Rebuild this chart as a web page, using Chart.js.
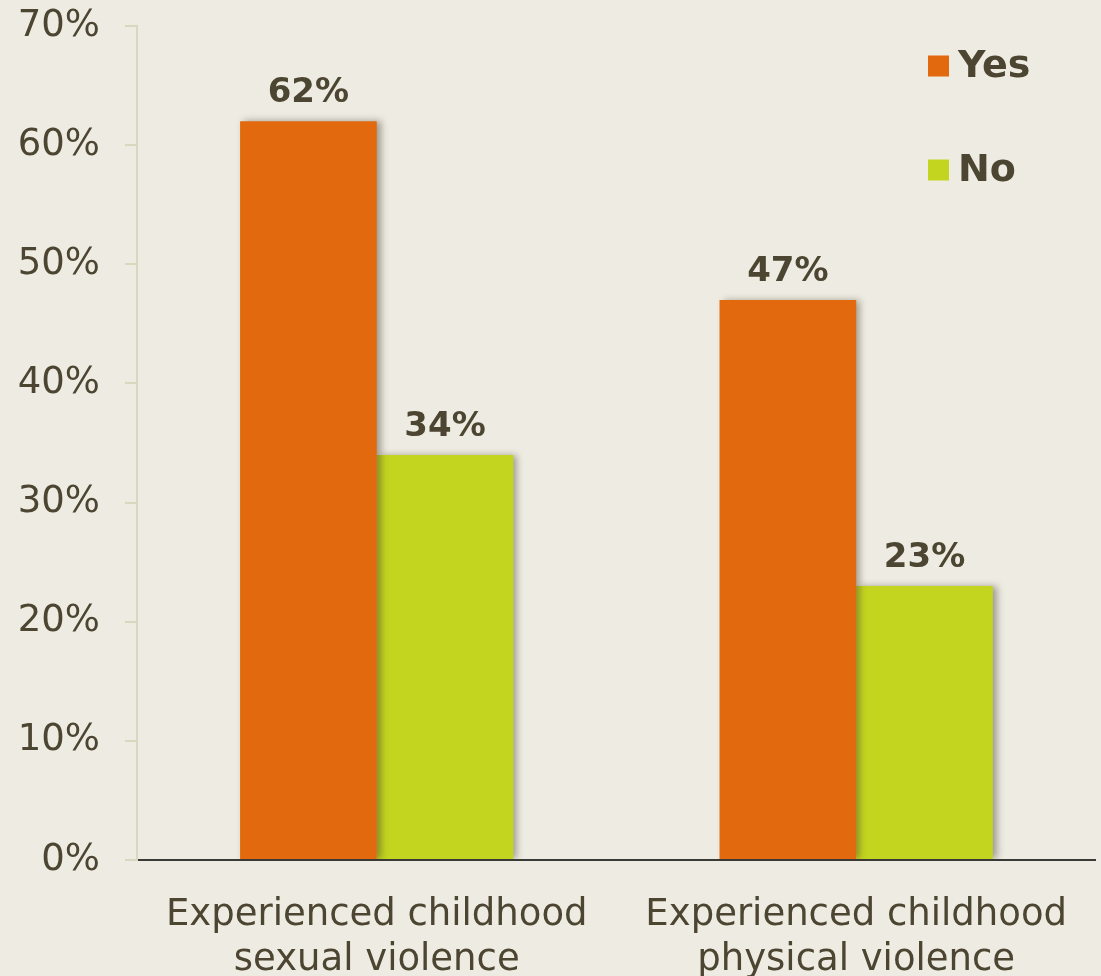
<!DOCTYPE html>
<html>
<head>
<meta charset="utf-8">
<script src="https://cdn.jsdelivr.net/npm/chart.js@4"></script>
<style>
  html, body { margin: 0; padding: 0; background: #eeebe2; }
  #wrap { width: 1101px; height: 976px; position: relative; }
</style>
</head>
<body>
<div id="wrap"><canvas id="c" width="1101" height="976"></canvas></div>
<script>
const categories = [["Experienced childhood", "sexual violence"], ["Experienced childhood", "physical violence"]];
const seriesNames = ["Yes", "No"];
const yesValues = [62, 47];
const noValues = [34, 23];
const yTicks = [0, 10, 20, 30, 40, 50, 60, 70];

const TEXT = '#4b4531';
const FONT = "'DejaVu Sans', Verdana, sans-serif";

const bgPlugin = {
  id: 'bg',
  beforeDraw(chart) {
    const ctx = chart.ctx;
    ctx.save();
    ctx.fillStyle = '#eeebe2';
    ctx.fillRect(0, 0, chart.width, chart.height);
    ctx.restore();
  }
};

const shadowPlugin = {
  id: 'shadow',
  beforeDatasetsDraw(chart) {
    const ctx = chart.ctx;
    ctx.save();
    ctx.shadowColor = 'rgba(60,55,40,0.45)';
    ctx.shadowBlur = 7;
    ctx.shadowOffsetX = 4;
    ctx.shadowOffsetY = 0;
  },
  afterDatasetsDraw(chart) {
    chart.ctx.restore();
  }
};

const labelPlugin = {
  id: 'valueLabels',
  afterDatasetsDraw(chart) {
    const ctx = chart.ctx;
    ctx.save();
    ctx.fillStyle = TEXT;
    ctx.font = "bold 34px " + FONT;
    ctx.textAlign = 'center';
    ctx.textBaseline = 'alphabetic';
    chart.data.datasets.forEach((ds, i) => {
      const meta = chart.getDatasetMeta(i);
      meta.data.forEach((bar, j) => {
        ctx.fillText(ds.data[j] + '%', bar.x, bar.y - 19);
      });
    });
    ctx.restore();
  }
};

const legendPlugin = {
  id: 'customLegend',
  afterDraw(chart) {
    const ctx = chart.ctx;
    ctx.save();
    ctx.font = "bold 38px " + FONT;
    ctx.textBaseline = 'middle';
    ctx.textAlign = 'left';
    const x0 = 928, y0 = 66, gap = 104, box = 21;
    chart.data.datasets.forEach((ds, i) => {
      const y = y0 + i * gap;
      ctx.fillStyle = ds.backgroundColor;
      ctx.fillRect(x0, y - box / 2, box, box);
      ctx.fillStyle = TEXT;
      ctx.fillText(ds.label, x0 + 30, y + 1);
    });
    ctx.restore();
  }
};

new Chart(document.getElementById('c'), {
  type: 'bar',
  data: {
    labels: categories,
    datasets: [
      { label: seriesNames[0], data: yesValues, backgroundColor: '#e2690d', borderWidth: 0 },
      { label: seriesNames[1], data: noValues, backgroundColor: '#c4d520', borderWidth: 0 }
    ]
  },
  options: {
    responsive: false,
    animation: false,
    devicePixelRatio: 1,
    layout: { padding: { top: 0, right: 4, left: 0, bottom: 0 } },
    plugins: { legend: { display: false }, tooltip: { enabled: false } },
    datasets: { bar: { categoryPercentage: 0.57, barPercentage: 1.0 } },
    scales: {
      x: {
        grid: { display: false, drawTicks: false },
        border: { display: true, color: '#3a3a36', width: 2 },
        ticks: {
          color: TEXT,
          font: { family: FONT, size: 37, lineHeight: 1.22 },
          padding: 33,
          maxRotation: 0,
          autoSkip: false
        },
        afterFit(s) { s.height = 116; }
      },
      y: {
        min: 0,
        max: 70,
        afterBuildTicks(s) { s.ticks = yTicks.map(v => ({ value: v })); },
        grid: {
          drawOnChartArea: false,
          drawTicks: true,
          tickLength: 12,
          color: '#d8d8bf',
          lineWidth: 2
        },
        border: { display: true, color: '#d8d8bf', width: 2 },
        ticks: {
          color: TEXT,
          font: { family: FONT, size: 37, lineHeight: 0.05 },
          padding: 25,
          callback: v => v + '%'
        },
        afterFit(s) { s.width = 137; }
      }
    }
  },
  plugins: [bgPlugin, shadowPlugin, labelPlugin, legendPlugin]
});
</script>
</body>
</html>
